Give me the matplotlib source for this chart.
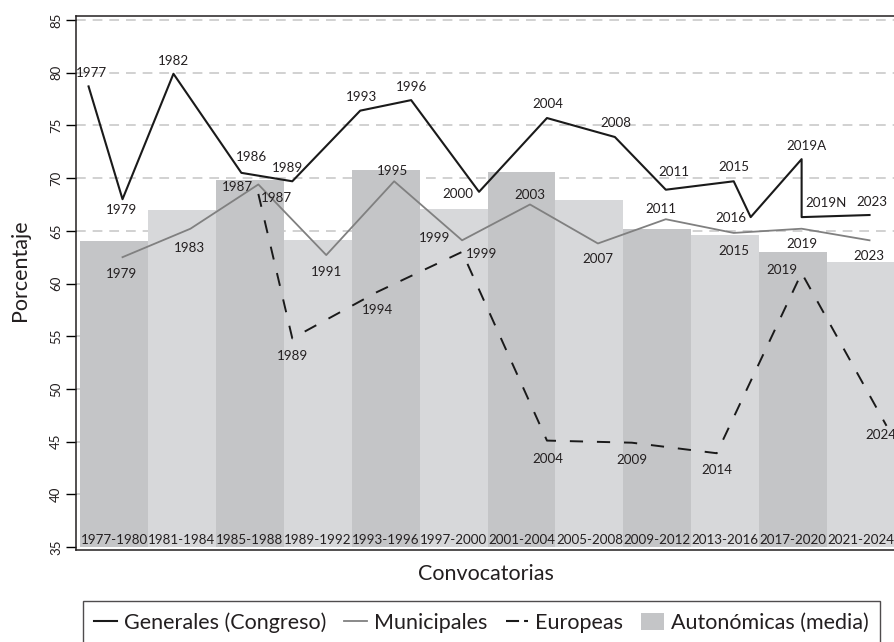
import matplotlib
matplotlib.use('Agg')
import matplotlib.pyplot as plt
from matplotlib.lines import Line2D
from matplotlib.patches import Patch

plt.rcParams['font.family'] = ['Lato', 'DejaVu Sans']
plt.rcParams['lines.scale_dashes'] = False

# ---------------- data ----------------
periods = ['1977-1980', '1981-1984', '1985-1988', '1989-1992', '1993-1996', '1997-2000',
           '2001-2004', '2005-2008', '2009-2012', '2013-2016', '2017-2020', '2021-2024']
period_start = [1977, 1981, 1985, 1989, 1993, 1997, 2001, 2005, 2009, 2013, 2017, 2021]
autonomicas = [64.0, 67.0, 69.8, 64.1, 70.8, 67.1, 70.6, 67.9, 65.2, 64.6, 63.0, 62.0]

gen_years = [1977, 1979, 1982, 1986, 1989, 1993, 1996, 2000, 2004, 2008, 2011, 2015, 2016, 2019, 2019, 2023]
gen_labels = ['1977', '1979', '1982', '1986', '1989', '1993', '1996', '2000', '2004', '2008',
              '2011', '2015', '2016', '2019A', '2019N', '2023']
gen_values = [78.7, 68.0, 79.9, 70.5, 69.7, 76.4, 77.4, 68.7, 75.7, 73.9, 68.9, 69.7, 66.3, 71.8, 66.3, 66.5]

mun_years = [1979, 1983, 1987, 1991, 1995, 1999, 2003, 2007, 2011, 2015, 2019, 2023]
mun_values = [62.5, 65.2, 69.4, 62.7, 69.7, 64.1, 67.5, 63.8, 66.1, 64.8, 65.2, 64.1]

eur_years = [1987, 1989, 1994, 1999, 2004, 2009, 2014, 2019, 2024]
eur_values = [68.5, 54.8, 59.2, 63.0, 45.1, 44.9, 43.9, 61.0, 46.5]

# label offsets (pixels, x right / y up)
gen_off = [(3, 13), (-1, -11), (0, 13), (10, 16), (-5, 13), (1, 14), (0, 13), (-21, -2),
           (1, 14), (1, 14), (8, 18), (0, 14), (-20, -1), (5, 13), (24, 14), (2, 13)]
mun_off = [(-1, -17), (-1, -19), (-21, -3), (0, -17), (-2, 10), (-27, 2), (0, 9), (0, -16),
           (-5, 10), (0, -18), (0, -15), (-1, -16)]
eur_off = [(18, -4), (0, -18), (0, -18), (20, -2), (1, -18), (0, -17), (0, -17), (-20, 3), (-6, -9)]

# ---------------- figure ----------------
W, H = 895, 642
fig = plt.figure(figsize=(W / 100, H / 100), dpi=100)
ax = fig.add_axes([76 / W, 1 - 550 / H, 1 - 76 / W, (550 - 16) / H])

txt = '#231f20'
bar_cols = ['#c4c5c7', '#d7d8da']

# gridlines
for v in range(40, 86, 5):
    ax.axhline(v, color='#c9c9c9', lw=1.2, ls=(0, (7, 5)), zorder=0)

ax.bar(period_start, [a - 35 for a in autonomicas], bottom=35, width=4, align='edge',
       color=[bar_cols[i % 2] for i in range(len(periods))], zorder=1, linewidth=0)
for s, p in zip(period_start, periods):
    ax.text(s + 2, 35.65, p, ha='center', va='center', fontsize=9.6, color=txt, zorder=3)

gx = [y + 0.5 for y in gen_years]
mx = [y + 0.5 for y in mun_years]
ex = [y + 0.5 for y in eur_years]

ax.plot(gx, gen_values, color='#1a1a1a', lw=1.5, zorder=4)
ax.plot(mx, mun_values, color='#808080', lw=1.3, zorder=4)
ax.plot(ex, eur_values, color='#1a1a1a', lw=1.4, ls=(0, (9.5, 10)), zorder=4)

k = 0.72
for xs, vs, labs, offs in [(gx, gen_values, gen_labels, gen_off),
                           (mx, mun_values, [str(y) for y in mun_years], mun_off),
                           (ex, eur_values, [str(y) for y in eur_years], eur_off)]:
    for x, v, l, o in zip(xs, vs, labs, offs):
        ax.annotate(l, (x, v), xytext=(o[0] * k, o[1] * k), textcoords='offset points',
                    ha='center', va='center', fontsize=9.6, color=txt, zorder=5)

ax.set_xlim(1976.76, 2025)
ax.set_ylim(34.72, 85.38)
ax.set_yticks(range(35, 86, 5))
ax.tick_params(axis='y', length=7, width=1, pad=3, labelsize=9.5, labelcolor=txt)
for t in ax.get_yticklabels():
    t.set_rotation(90)
    t.set_va('center')
ax.set_xticks([])
for s in ['left', 'top', 'bottom']:
    ax.spines[s].set_linewidth(1.1)
    ax.spines[s].set_color('#231f20')
ax.spines['right'].set_visible(False)

fig.text(20 / W, 1 - 270 / H, 'Porcentaje', rotation=90, ha='center', va='center',
         fontsize=15.5, color=txt)
fig.text(486 / W, 1 - 574 / H, 'Convocatorias', ha='center', va='center',
         fontsize=15.5, color=txt)

handles = [Line2D([], [], color='#1a1a1a', lw=1.5),
           Line2D([], [], color='#808080', lw=1.3),
           Line2D([], [], color='#1a1a1a', lw=1.5, ls=(0, (9.4, 3.6))),
           Patch(facecolor='#c4c5c7', edgecolor='none')]
labels = ['Generales (Congreso)', 'Municipales', 'Europeas', 'Autonómicas (media)']
leg = fig.legend(handles, labels, ncol=4, loc='upper left',
                 bbox_to_anchor=(83 / W, 1 - 601 / H), fontsize=15.5, frameon=True,
                 fancybox=False, edgecolor='#231f20', handlelength=1.05, handletextpad=0.32,
                 columnspacing=0.85, borderpad=0.52, borderaxespad=0, handleheight=0.85)
leg.get_frame().set_linewidth(1.0)
for t in leg.get_texts():
    t.set_color(txt)

fig.savefig('out.png', dpi=100)
